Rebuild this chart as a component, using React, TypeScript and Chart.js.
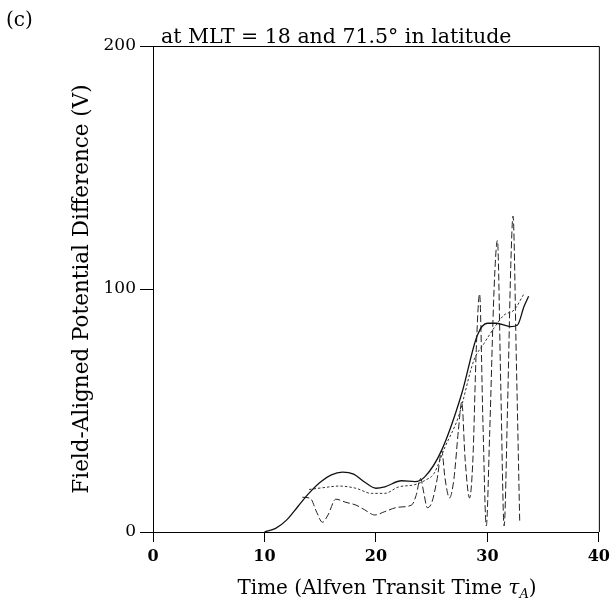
import React, { useEffect, useRef } from "react";
import { Chart, registerables } from "chart.js";

Chart.register(...registerables);

// ---- data ----
const xTicks = [0, 10, 20, 30, 40];
const yTicks = [0, 100, 200];

const solidT = [10, 11, 12, 13, 14, 15, 16, 17, 18, 19, 20.0, 20.8, 22.3, 23.5, 24.4, 25.9, 27.7, 29.1, 30.0, 30.8, 32.1, 32.7, 33.3, 33.7];
const solidV = [0, 1.5, 5, 10.5, 16, 20.5, 23.5, 24.6, 23.8, 20.5, 18, 18.6, 21.1, 20.7, 22.8, 33.7, 57, 81, 85.9, 85.9, 84.5, 85.2, 93, 97];

const dottedT = [14.0, 15.2, 16.7, 18.2, 19.6, 20.8, 22.0, 23.5, 24.5, 25.2, 26.2, 27.4, 28.8, 29.7, 30.6, 31.5, 32.4, 33.3];
const dottedV = [17.5, 18.2, 18.9, 18, 15.9, 15.9, 18.5, 19.5, 21.5, 24, 35, 47.4, 70.8, 77.6, 84, 89.3, 91.4, 98.2];

const dashT = [13.4, 14.1, 14.7, 15.2, 15.7, 16.4, 17.3, 18.2, 19.0, 19.9, 20.8, 22.0, 23.2, 23.6, 24.0, 24.3, 24.6, 25.0, 25.5, 25.9, 26.2, 26.6, 27.0, 27.4, 27.7, 28.0, 28.4, 28.7, 29.0, 29.3, 29.6, 29.9, 30.2, 30.6, 30.9, 31.2, 31.5, 31.8, 32.1, 32.3, 32.6, 32.9];
const dashV = [14.3, 13.9, 8, 4, 7, 13.5, 12.2, 11.1, 9.1, 7.0, 8.4, 10.2, 11.1, 15, 22, 16, 10, 12, 22, 33.5, 22, 14, 22, 42, 53.5, 30, 14, 30, 75, 98, 45, 2.5, 40, 100, 120, 60, 2.5, 50, 110, 130, 70, 4];

const titleText = "at MLT = 18 and 71.5\u00B0 in latitude";
const panelLabel = "(c)";
const yTitle = "Field-Aligned Potential Difference (V)";
const xTitleMain = "Time (Alfven Transit Time ";

const SERIF = "'DejaVu Serif', 'Liberation Serif', serif";

function pts(t: number[], v: number[]) {
  return t.map((x, i) => ({ x, y: v[i] }));
}

const decorPlugin = {
  id: "decor",
  afterDraw(chart: any) {
    const { ctx, chartArea } = chart;
    ctx.save();
    ctx.strokeStyle = "#000";
    ctx.lineWidth = 1;
    ctx.beginPath();
    ctx.moveTo(chartArea.left, chartArea.top + 0.5);
    ctx.lineTo(chartArea.right + 0.5, chartArea.top + 0.5);
    ctx.lineTo(chartArea.right + 0.5, chartArea.bottom);
    ctx.stroke();

    ctx.fillStyle = "#000";
    ctx.textBaseline = "alphabetic";
    ctx.textAlign = "left";
    ctx.font = `20px ${SERIF}`;
    ctx.fillText(panelLabel, 6, 26);
    ctx.font = `20.5px ${SERIF}`;
    ctx.fillText(titleText, 161, 43);

    const baseY = 594;
    ctx.font = `20px ${SERIF}`;
    const w1 = ctx.measureText(xTitleMain).width;
    ctx.font = `italic 20px ${SERIF}`;
    const wt = ctx.measureText("\u03C4").width;
    ctx.font = `italic 13px ${SERIF}`;
    const wa = ctx.measureText("A").width;
    ctx.font = `20px ${SERIF}`;
    const wc = ctx.measureText(")").width;
    const total = w1 + wt + wa + wc;
    let x = 387 - total / 2;
    ctx.font = `20px ${SERIF}`;
    ctx.fillText(xTitleMain, x, baseY);
    x += w1;
    ctx.font = `italic 20px ${SERIF}`;
    ctx.fillText("\u03C4", x, baseY);
    x += wt;
    ctx.font = `italic 13px ${SERIF}`;
    ctx.fillText("A", x, baseY + 4);
    x += wa;
    ctx.font = `20px ${SERIF}`;
    ctx.fillText(")", x, baseY);
    ctx.restore();
  },
};

export default function App() {
  const ref = useRef<HTMLCanvasElement | null>(null);
  useEffect(() => {
    if (!ref.current) return;
    const chart = new Chart(ref.current, {
      type: "line",
      data: {
        datasets: [
          {
            label: "solid",
            data: pts(solidT, solidV),
            borderColor: "#111",
            borderWidth: 1.3,
            pointRadius: 0,
            cubicInterpolationMode: "monotone",
            fill: false,
          },
          {
            label: "dotted",
            data: pts(dottedT, dottedV),
            borderColor: "#333",
            borderWidth: 1,
            borderDash: [2.5, 2],
            pointRadius: 0,
            cubicInterpolationMode: "monotone",
            fill: false,
          },
          {
            label: "dashed",
            data: pts(dashT, dashV),
            borderColor: "#222",
            borderWidth: 1,
            borderDash: [7, 3],
            pointRadius: 0,
            cubicInterpolationMode: "monotone",
            fill: false,
          },
        ],
      },
      options: {
        animation: false,
        responsive: false,
        maintainAspectRatio: false,
        layout: { padding: { top: 46, right: 14, left: 0, bottom: 0 } },
        plugins: { legend: { display: false }, tooltip: { enabled: false }, title: { display: false } },
        scales: {
          x: {
            type: "linear",
            min: 0,
            max: 40,
            afterFit: (s: any) => { s.height = 75; },
            afterBuildTicks: (s: any) => { s.ticks = xTicks.map((v) => ({ value: v })); },
            ticks: { color: "#000", font: { family: SERIF, size: 16, weight: "bold" }, padding: 5, maxRotation: 0 },
            grid: { drawOnChartArea: false, color: "#000", tickLength: 10, tickWidth: 1 },
            border: { display: true, color: "#000", width: 1 },
          },
          y: {
            type: "linear",
            min: 0,
            max: 200,
            afterFit: (s: any) => { s.width = 153; },
            afterBuildTicks: (s: any) => { s.ticks = yTicks.map((v) => ({ value: v })); },
            ticks: { color: "#000", font: { family: SERIF, size: 17 }, padding: 4 },
            grid: { drawOnChartArea: false, color: "#000", tickLength: 13, tickWidth: 1 },
            border: { display: true, color: "#000", width: 1 },
            title: {
              display: true,
              text: yTitle,
              color: "#000",
              font: { family: SERIF, size: 21.5 },
              padding: { top: 70, bottom: 0 },
            },
          },
        },
      },
      plugins: [decorPlugin],
    } as any);
    return () => chart.destroy();
  }, []);
  return (
    <div style={{ position: "fixed", left: 0, top: 0, width: 615, height: 607, background: "#fff" }}>
      <canvas ref={ref} width={615} height={607} style={{ width: 615, height: 607 }} />
    </div>
  );
}
